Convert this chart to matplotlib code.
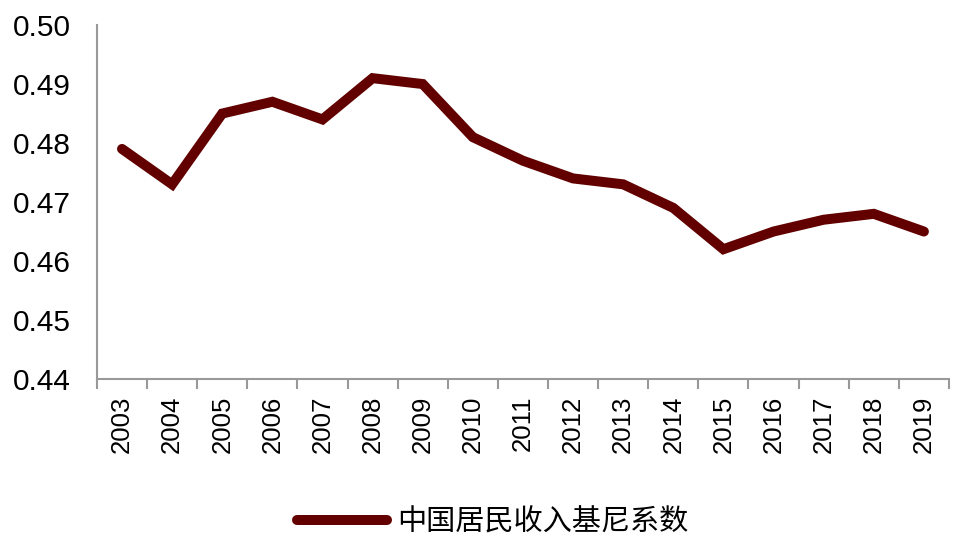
import numpy as np
import matplotlib.pyplot as plt

plt.rcParams['font.family'] = ['Liberation Sans', 'Noto Sans CJK SC', 'DejaVu Sans']

years = ['2003', '2004', '2005', '2006', '2007', '2008', '2009', '2010', '2011',
         '2012', '2013', '2014', '2015', '2016', '2017', '2018', '2019']
gini = [0.479, 0.473, 0.485, 0.487, 0.484, 0.491, 0.490, 0.481, 0.477,
        0.474, 0.473, 0.469, 0.462, 0.465, 0.467, 0.468, 0.465]
yticks = [0.44, 0.45, 0.46, 0.47, 0.48, 0.49, 0.50]

fig = plt.figure(figsize=(9.6, 5.45), dpi=100)
ax = fig.add_axes([0.101, 0.3046, 0.8875, 0.6494])

x = np.arange(len(years))
ax.plot(x, gini, color='#620000', lw=7.2, solid_capstyle='round',
        solid_joinstyle='miter', label='中国居民收入基尼系数')

ax.set_xlim(-0.5, len(years) - 0.5)
ax.set_ylim(0.44, 0.50)
ax.set_yticks(yticks)
ax.set_yticklabels(['%.2f' % v for v in yticks], fontsize=21.5)
ax.tick_params(axis='y', length=0, pad=19)

ax.set_xticks(x)
ax.set_xticklabels(years, rotation=90, fontsize=18.5)
ax.tick_params(axis='x', which='major', length=0, pad=12)
ax.set_xticks(np.arange(-0.5, len(years)), minor=True)
ax.tick_params(axis='x', which='minor', length=7, width=1.5, color='#999999')

for s in ['top', 'right']:
    ax.spines[s].set_visible(False)
for s in ['left', 'bottom']:
    ax.spines[s].set_color('#999999')
    ax.spines[s].set_linewidth(1.5)

leg = fig.legend(loc='center', bbox_to_anchor=(0.513, 0.042), frameon=False,
                 fontsize=21, handlelength=3.1, handletextpad=0.35)

plt.savefig('out.png')
